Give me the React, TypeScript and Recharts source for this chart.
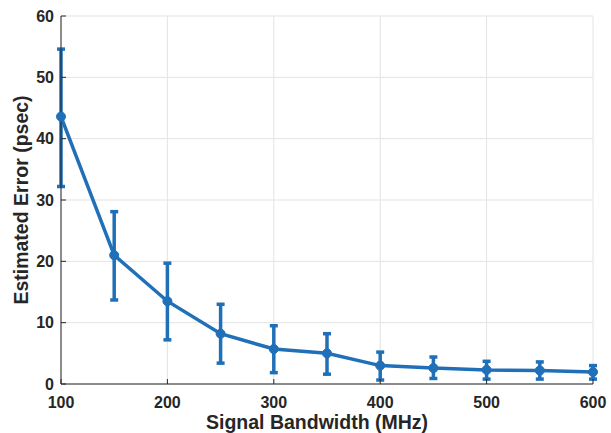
import React from 'react';
import {
  CartesianGrid,
  ComposedChart,
  ErrorBar,
  Line,
  XAxis,
  YAxis,
} from 'recharts';

const BANDWIDTH = [100, 150, 200, 250, 300, 350, 400, 450, 500, 550, 600];
const MEAN_ERROR = [43.6, 21.0, 13.5, 8.2, 5.7, 5.0, 3.0, 2.6, 2.3, 2.2, 1.95];
const UPPER = [54.6, 28.1, 19.7, 13.0, 9.5, 8.2, 5.2, 4.4, 3.7, 3.6, 3.0];
const LOWER = [32.2, 13.7, 7.2, 3.4, 1.85, 1.6, 0.65, 0.9, 0.8, 0.8, 0.8];

const X_TICKS = [100, 200, 300, 400, 500, 600];
const Y_TICKS = [0, 10, 20, 30, 40, 50, 60];

const BLUE = '#1f70b8';
const AXIS = '#262626';
const FONT = '"Liberation Sans", Arial, Helvetica, sans-serif';

const data = BANDWIDTH.map((bw, i) => ({
  bw,
  err: MEAN_ERROR[i],
  range: [MEAN_ERROR[i] - LOWER[i], UPPER[i] - MEAN_ERROR[i]],
}));

const tickStyle = { fontSize: 16, fontWeight: 700, fill: AXIS, fontFamily: FONT };
const labelStyle = { fontSize: 19.5, fontWeight: 700, fill: AXIS, fontFamily: FONT };

const App: React.FC = () => (
  <div style={{ position: 'absolute', left: 0, top: 0, background: '#fff' }}>
    <ComposedChart
      width={611}
      height={433}
      data={data}
      margin={{ top: 16, right: 18, left: 0, bottom: 0 }}
    >
      <CartesianGrid stroke="#e3e3e3" strokeWidth={1} />
      <XAxis
        type="number"
        dataKey="bw"
        domain={[100, 600]}
        ticks={X_TICKS}
        height={49}
        tickSize={-5}
        tickMargin={17.3}
        tick={tickStyle}
        axisLine={{ stroke: AXIS }}
        tickLine={{ stroke: AXIS }}
        label={{
          value: 'Signal Bandwidth (MHz)',
          position: 'insideBottom',
          offset: 4.2,
          dx: -10,
          style: labelStyle,
        }}
      />
      <XAxis
        xAxisId="top"
        orientation="top"
        type="number"
        dataKey="bw"
        domain={[100, 600]}
        ticks={X_TICKS}
        height={0}
        tickSize={-5}
        tick={false}
        axisLine={{ stroke: AXIS }}
        tickLine={{ stroke: AXIS }}
      />
      <YAxis
        type="number"
        domain={[0, 60]}
        ticks={Y_TICKS}
        width={61}
        tickSize={-5}
        tickMargin={12}
        tick={tickStyle}
        axisLine={{ stroke: AXIS }}
        tickLine={{ stroke: AXIS }}
        label={{
          value: 'Estimated Error (psec)',
          angle: -90,
          position: 'insideLeft',
          offset: 21,
          style: { ...labelStyle, textAnchor: 'middle' },
        }}
      />
      <YAxis
        yAxisId="right"
        orientation="right"
        type="number"
        domain={[0, 60]}
        ticks={Y_TICKS}
        width={0}
        tickSize={-5}
        tick={false}
        axisLine={{ stroke: AXIS }}
        tickLine={{ stroke: AXIS }}
      />
      <Line
        type="linear"
        dataKey="err"
        stroke={BLUE}
        strokeWidth={3.5}
        dot={{ r: 4.5, fill: BLUE, stroke: BLUE, strokeWidth: 1 }}
        activeDot={false}
        isAnimationActive={false}
      >
        <ErrorBar
          dataKey="range"
          direction="y"
          width={4}
          stroke={BLUE}
          strokeWidth={3.5}
          isAnimationActive={false}
        />
      </Line>
    </ComposedChart>
  </div>
);

export default App;
